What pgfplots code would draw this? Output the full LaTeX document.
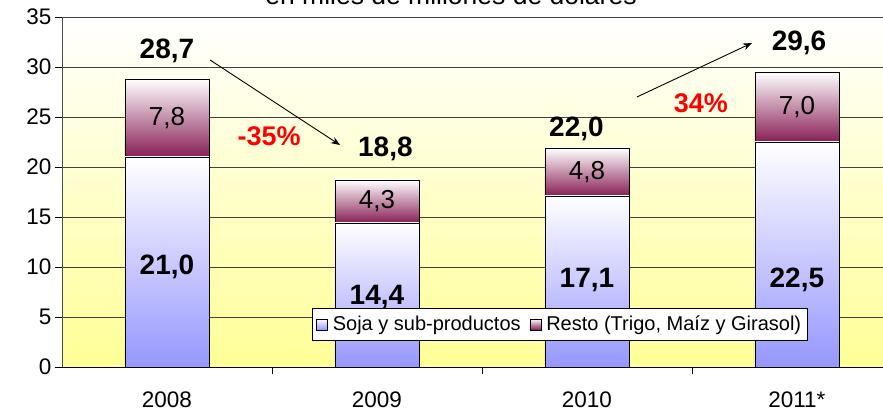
\documentclass[border=0pt]{standalone}
\usepackage{pgfplots}
\pgfplotsset{compat=1.18}
\usepackage{fontspec}
\setmainfont{Liberation Sans}
\usetikzlibrary{arrows.meta}
\definecolor{soja}{RGB}{150,150,255}
\definecolor{resto}{RGB}{135,30,85}
\definecolor{bgyel}{RGB}{255,255,150}
\tikzset{
  boldlab/.style={font=\fontsize{28}{32}\selectfont\bfseries},
  reglab/.style={font=\fontsize{26}{30}\selectfont},
  redlab/.style={font=\fontsize{27}{30}\selectfont\bfseries, text=red},
}
\pgfplotsset{
  base/.style={
    at={(62pt,42pt)}, anchor=south west, scale only axis,
    width=821pt, height=350pt,
    xmin=-0.5, xmax=3.41, ymin=0, ymax=35,
    ybar stacked, bar width=84pt,
  },
  over/.style={base, hide axis},
  sojabar/.style={draw=black, line width=0.8pt, shade, top color=white, bottom color=soja},
  restobar/.style={draw=black, line width=0.8pt, shade, top color=white, bottom color=resto},
}
\begin{document}
\begin{tikzpicture}
\useasboundingbox (0pt,0pt) rectangle (883pt,409pt);
\node[anchor=base, font=\fontsize{26.5}{30}\selectfont] at (451pt,404pt) {en miles de millones de dólares};
% axis 1: frame, grid, ticks, and the 2008 bar
\begin{axis}[
  base,
  axis x line*=bottom, axis y line*=left,
  x axis line style={-, black, line width=0.8pt},
  y axis line style={-, black!70, line width=0.8pt},
  ytick={0,5,...,35},
  ymajorgrids, grid style={black!75, line width=0.6pt},
  xtick={0,1,2,3}, xticklabels={2008,2009,2010,2011*},
  major x tick style={draw=none},
  minor xtick={0.5,1.5,2.5},
  minor x tick style={black, line width=0.8pt},
  major y tick style={black, line width=0.8pt},
  tick align=outside, major tick length=7pt, minor tick length=7pt,
  tick label style={font=\fontsize{22.5}{26}\selectfont},
  /pgf/number format/assume math mode=true,
  xticklabel style={yshift=-14pt},
  axis background/.style={shade, top color=white, bottom color=bgyel},
]
\addplot[sojabar] coordinates {(0,21.0)};
\addplot[restobar] coordinates {(0,7.8)};
\end{axis}
% axis 2: 2009
\begin{axis}[over]
\addplot[sojabar] coordinates {(1,14.4)};
\addplot[restobar] coordinates {(1,4.3)};
\end{axis}
% axis 3: 2010
\begin{axis}[over]
\addplot[sojabar] coordinates {(2,17.1)};
\addplot[restobar] coordinates {(2,4.8)};
\end{axis}
% axis 4: 2011 and legend
\begin{axis}[over,
  legend style={at={(0.3045,0.1686)}, anchor=north west, draw=black, fill=white,
    font=\fontsize{20}{24}\selectfont, legend columns=2,
    /tikz/every odd column/.append style={column sep=3pt},
    /tikz/every even column/.append style={column sep=7pt},
    inner xsep=4pt, inner ysep=6pt},
  legend image code/.code={\draw[#1, line width=0.6pt] (0pt,-5.5pt) rectangle (11pt,5.5pt);},
]
\addplot[sojabar] coordinates {(3,22.5)};
\addlegendentry{Soja y sub-productos}
\addplot[restobar] coordinates {(3,7.0)};
\addlegendentry{Resto (Trigo, Maíz y Girasol)}
\end{axis}
% axis 5: value labels, changes and arrows
\begin{axis}[base, hide axis]
\node[boldlab] at (axis cs:0,10.0) {21,0};
\node[boldlab] at (axis cs:1,7.0) {14,4};
\node[boldlab] at (axis cs:2,8.7) {17,1};
\node[boldlab] at (axis cs:3,8.7) {22,5};
\node[boldlab] at (axis cs:0,31.6) {28,7};
\node[boldlab] at (axis cs:1.04,21.8) {18,8};
\node[boldlab] at (axis cs:1.95,23.8) {22,0};
\node[boldlab] at (axis cs:3.01,32.45) {29,6};
\node[reglab] at (axis cs:0,24.9) {7,8};
\node[reglab] at (axis cs:1,16.55) {4,3};
\node[reglab] at (axis cs:2,19.45) {4,8};
\node[reglab] at (axis cs:3,26.0) {7,0};
\node[redlab] at (axis cs:0.486,23.1) {-35\%};
\node[redlab] at (axis cs:2.543,26.4) {34\%};
\draw[-{Stealth[length=9pt,width=7pt]}, line width=0.9pt] (axis cs:0.205,30.7) -- (axis cs:0.824,22.2);
\draw[-{Stealth[length=9pt,width=7pt]}, line width=0.9pt] (axis cs:2.238,27.0) -- (axis cs:2.786,32.4);
\end{axis}
\end{tikzpicture}
\end{document}
